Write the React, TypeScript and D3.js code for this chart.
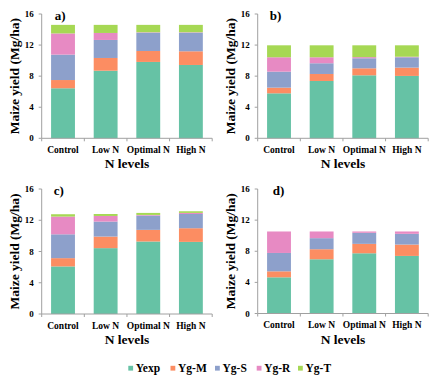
import React from "react";
import * as d3 from "d3";

const categories = ["Control", "Low N", "Optimal N", "High N"];
const seriesNames = ["Yexp", "Yg-M", "Yg-S", "Yg-R", "Yg-T"];
const colors = ["#66c2a5", "#fc8d62", "#8da0cb", "#e78ac3", "#a6d854"];
const yTicks = [0, 4, 8, 12, 16];

// each row: [Yexp, Yg-M, Yg-S, Yg-R, Yg-T] per category
const panelA = [
  [6.44, 1.06, 3.27, 2.73, 1.1],
  [8.7, 1.64, 2.32, 0.9, 1.04],
  [9.83, 1.41, 2.36, 0.05, 0.95],
  [9.44, 1.76, 2.4, 0.05, 0.95],
];
const panelB = [
  [5.79, 0.73, 2.06, 1.85, 1.54],
  [7.38, 0.9, 1.38, 0.77, 1.54],
  [8.11, 0.9, 1.29, 0.15, 1.52],
  [8.03, 1.07, 1.33, 0.07, 1.47],
];
const panelC = [
  [6.09, 1.06, 3.05, 2.27, 0.3],
  [8.43, 1.48, 1.92, 0.72, 0.25],
  [9.28, 1.49, 1.83, 0.08, 0.26],
  [9.23, 1.75, 1.82, 0.14, 0.21],
];
const panelD = [
  [4.65, 0.77, 2.36, 2.76, 0.0],
  [6.97, 1.29, 1.42, 0.86, 0.0],
  [7.74, 1.21, 1.42, 0.17, 0.0],
  [7.4, 1.46, 1.38, 0.3, 0.0],
];
const panelLabels = ["a)", "b)", "c)", "d)"];
const panelData = [panelA, panelB, panelC, panelD];

const layouts = [
  { x0: 41.7, yTop: 14, yBot: 138.3, lx: 13 },
  { x0: 257.7, yTop: 14, yBot: 138.3, lx: 12 },
  { x0: 41.7, yTop: 189, yBot: 314, lx: 12 },
  { x0: 257.7, yTop: 189, yBot: 313.5, lx: 15 },
];
const W = 170.5;
const FONT = "Liberation Serif";
const AXIS = "#a0a0a0";

function Panel({ data, layout, label }) {
  const { x0, yTop, yBot, lx } = layout;
  const x = d3.scaleBand().domain(categories).range([x0, x0 + W]).paddingInner(0.44).paddingOuter(0.22);
  const y = d3.scaleLinear().domain([0, 16]).range([yBot, yTop]);
  const rows = categories.map((c, i) => {
    const o: any = { cat: c };
    seriesNames.forEach((s, j) => (o[s] = data[i][j]));
    return o;
  });
  const stacked = d3.stack().keys(seriesNames)(rows);
  const step = W / categories.length;
  return (
    <g>
      {stacked.map((layer, si) =>
        layer.map((seg, ci) => {
          const h = y(seg[0]) - y(seg[1]);
          if (h <= 0) return null;
          return (
            <rect
              key={si + "-" + ci}
              x={x(categories[ci])}
              width={x.bandwidth()}
              y={y(seg[1])}
              height={h}
              fill={colors[si]}
            />
          );
        })
      )}
      <line x1={x0} x2={x0} y1={yTop} y2={yBot} stroke={AXIS} strokeWidth={1} />
      <line x1={x0} x2={x0 + W} y1={yBot} y2={yBot} stroke={AXIS} strokeWidth={1} />
      {yTicks.map((t) => (
        <g key={t}>
          <line x1={x0 - 3} x2={x0} y1={y(t)} y2={y(t)} stroke={AXIS} />
          <text x={x0 - 8} y={y(t) + 3} textAnchor="end" fontSize={9} fontWeight="bold" fontFamily={FONT}>
            {t}
          </text>
        </g>
      ))}
      {d3.range(categories.length + 1).map((i) => (
        <line key={i} x1={x0 + i * step} x2={x0 + i * step} y1={yBot} y2={yBot + 3} stroke={AXIS} />
      ))}
      {categories.map((c) => (
        <text
          key={c}
          x={(x(c) as number) + x.bandwidth() / 2}
          y={yBot + 14.5}
          textAnchor="middle"
          fontSize={9.5}
          fontWeight="bold"
          fontFamily={FONT}
        >
          {c}
        </text>
      ))}
      <text x={x0 + W / 2} y={yBot + 30} textAnchor="middle" fontSize={13.5} fontWeight="bold" fontFamily={FONT}>
        N levels
      </text>
      <text
        transform={`translate(${x0 - 22.5},${(yTop + yBot) / 2}) rotate(-90)`}
        textAnchor="middle"
        fontSize={13.5}
        fontWeight="bold"
        fontFamily={FONT}
      >
        Maize yield (Mg/ha)
      </text>
      <text x={x0 + lx} y={yTop + 5.5} fontSize={13} fontWeight="bold" fontFamily={FONT}>
        {label}
      </text>
    </g>
  );
}

export default function App() {
  const legendX = [128.3, 170.5, 215, 256.7, 298];
  return (
    <svg width={436} height={378} style={{ position: "absolute", left: 0, top: 0, background: "#fff" }}>
      <rect width={436} height={378} fill="#fff" />
      {panelData.map((d, i) => (
        <Panel key={i} data={d} layout={layouts[i]} label={panelLabels[i]} />
      ))}
      {seriesNames.map((s, i) => (
        <g key={s}>
          <rect x={legendX[i]} y={365.8} width={4.8} height={4.8} fill={colors[i]} />
          <text x={legendX[i] + 7.5} y={372} fontSize={11.5} fontWeight="bold" fontFamily={FONT}>
            {s}
          </text>
        </g>
      ))}
    </svg>
  );
}
